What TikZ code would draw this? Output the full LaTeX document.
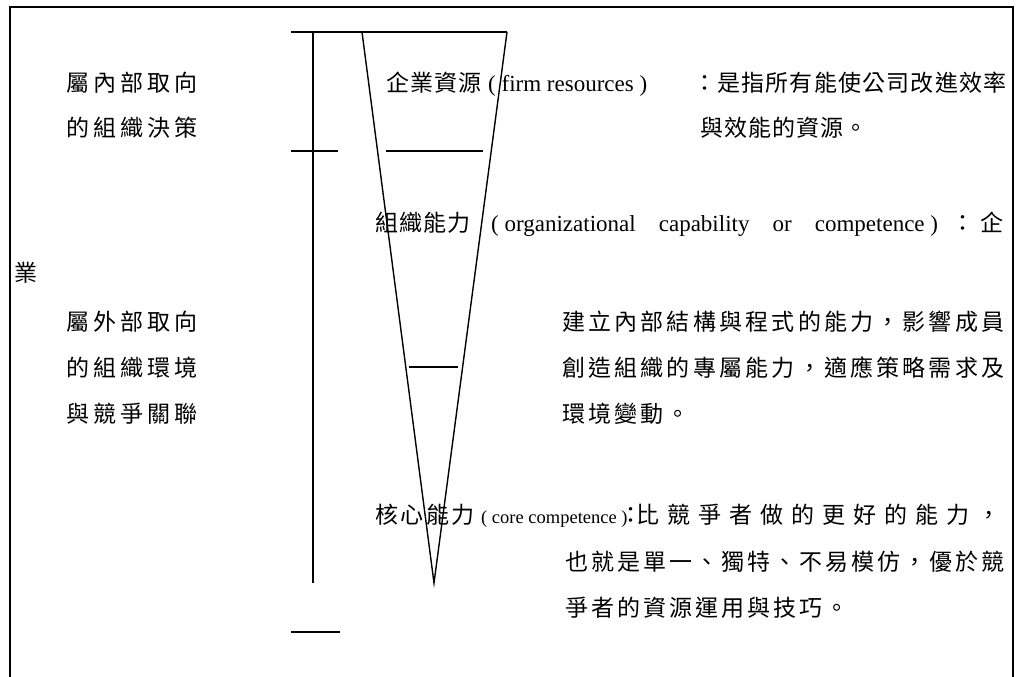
\documentclass[tikz,border=0pt]{standalone}
\usepackage{fontspec}
\setmainfont{Liberation Serif}
\newfontfamily\cjk{Noto Sans CJK TC}
\ExplSyntaxOn
\NewDocumentCommand\spaced{mm}{\tl_map_inline:nn {#2} {\makebox[#1][l]{\cjk ##1}}}
\ExplSyntaxOff
\begin{document}
\begin{tikzpicture}[x=1pt,y=-1pt,
  frameline/.style={line width=2.4pt},
  rule/.style={line width=1.4pt},
  t/.style={inner sep=0pt, anchor=base west, font=\fontsize{23}{27}\selectfont},
  ts/.style={inner sep=0pt, anchor=base west, font=\fontsize{18.5}{22}\selectfont},
]
\useasboundingbox (0,0) rectangle (1020,677);
% frame (open at the bottom)
\draw[frameline] (10,677) -- (10,7) -- (1013,7) -- (1013,677);
% bracket
\coordinate (tl) at (291,32);
\coordinate (tr) at (507,32);
\coordinate (vt) at (313,32);
\coordinate (vb) at (313,583);
\coordinate (k1a) at (291,151);
\coordinate (k1b) at (338,151);
\coordinate (k2a) at (291,632);
\coordinate (k2b) at (340,632);
\draw[rule] (tl) -- (tr);
\draw[rule] (vt) -- (vb);
\draw[rule] (k1a) -- (k1b);
\draw[rule] (k2a) -- (k2b);
% funnel
\coordinate (fl) at (362,32);
\coordinate (apex) at (434,583);
\draw[rule] (fl) -- (apex) -- (tr);
\coordinate (h1a) at (386,151);
\coordinate (h1b) at (483,151);
\coordinate (h2a) at (409,367);
\coordinate (h2b) at (458,367);
\draw[rule] (h1a) -- (h1b);
\draw[rule] (h2a) -- (h2b);
% left labels
\node[t] (l1) at (66,92) {\spaced{27pt}{屬內部取向}};
\node[t] (l2) at (66,136) {\spaced{27pt}{的組織決策}};
\node[t] (ye) at (14,281) {\spaced{24pt}{業}};
\node[t] (l3) at (66,330) {\spaced{27pt}{屬外部取向}};
\node[t] (l4) at (66,376) {\spaced{27pt}{的組織環境}};
\node[t] (l5) at (66,422) {\spaced{27pt}{與競爭關聯}};
% row 1-2
\node[t] (r1a) at (386,92) {\spaced{24pt}{企業資源}};
\node[t] (r1b) at (488,92) {( firm resources )};
\node[t] (r1c) at (693,92) {\spaced{24.2pt}{：是指所有能使公司改進效率}};
\node[t] (r2) at (700,136) {\spaced{24pt}{與效能的資源。}};
% row 3
\node[t] (r3a) at (375,231) {\spaced{24pt}{組織能力}};
\node[t] (r3b) at (491,231) {( \makebox[420pt][s]{organizational capability or competence} )};
\node[t] (r3c) at (951,231) {\spaced{29pt}{：企}};
% rows 5-7
\node[t] (r5) at (562,330) {\spaced{26.2pt}{建立內部結構與程式的能力，影響成員}};
\node[t] (r6) at (562,376) {\spaced{26.2pt}{創造組織的專屬能力，適應策略需求及}};
\node[t] (r7) at (562,422) {\spaced{26.2pt}{環境變動。}};
% row 8-10
\node[t] (r8a) at (375,523) {\spaced{25.5pt}{核心能力}};
\node[ts] (r8b) at (481,523) {( core competence )};
\node[t] (r8c) at (619,523) {\spaced{17pt}{：}};
\node[t] (r8d) at (636,523) {\spaced{31pt}{比競爭者做的更好的能力，}};
\node[t] (r9) at (565,570) {\spaced{26pt}{也就是單一、獨特、不易模仿，優於競}};
\node[t] (r10) at (565,616) {\spaced{26pt}{爭者的資源運用與技巧。}};
\end{tikzpicture}
\end{document}
